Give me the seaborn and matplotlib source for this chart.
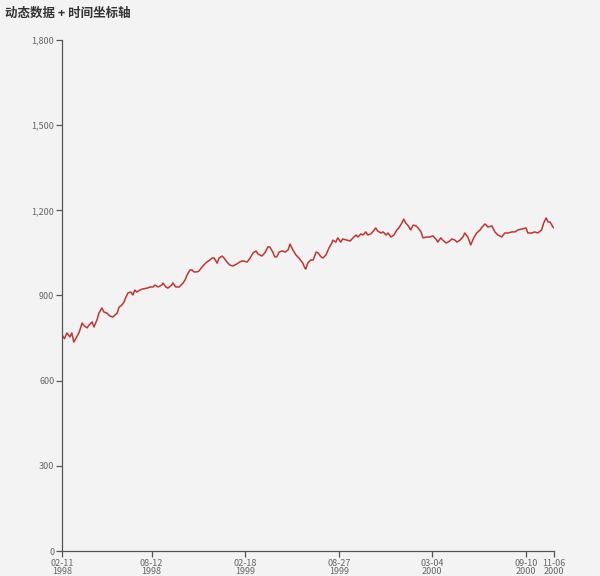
import matplotlib
matplotlib.use("Agg")
import numpy as np
import pandas as pd
import matplotlib.pyplot as plt
import seaborn as sns
from matplotlib.ticker import FuncFormatter

title = "动态数据 + 时间坐标轴"
start_date = "1998-02-11"

day_offsets = [
    0, 5, 10, 16, 20, 24, 30, 35, 41, 45, 51, 55, 61, 65, 71, 75,
    81, 85, 91, 97, 103, 112, 116, 122, 126, 130, 134, 140, 144, 148, 152, 158,
    164, 173, 179, 185, 189, 195, 203, 205, 211, 215, 223, 225, 231, 238, 246, 250,
    254, 260, 264, 268, 274, 278, 284, 288, 294, 298, 305, 309, 315, 319,
    325, 329, 335, 341, 347, 355, 361, 367, 376, 382, 388, 394, 398, 406, 412, 418,
    422, 428, 432, 436, 441, 447, 453, 459, 463, 469, 475, 481, 489, 493,
    495, 499, 505, 510, 516, 520, 526, 530, 536, 542, 548, 550, 556, 560, 566, 570,
    579, 585, 591, 597, 601, 607, 611, 617, 621, 627, 631, 637, 641, 648, 652,
    658, 662, 668, 674, 680, 684, 690, 694, 698, 702, 708, 713, 719, 723, 729, 733,
    741, 747, 753, 761, 763, 769, 773, 780, 784, 792, 798, 802, 808, 814, 818,
    824, 830, 836, 842, 849, 853, 859, 865, 873, 879, 885, 893, 899, 905, 914, 920,
    926, 934, 942, 946, 954, 960, 966, 974, 978, 983, 987, 991, 997, 999,
]

values = [
    761, 748, 768, 754, 768, 736, 754, 771, 803, 793, 786, 796, 807, 789, 814, 838,
    856, 842, 838, 828, 824, 838, 859, 867, 877, 895, 909, 912, 902, 919, 912, 919,
    923, 926, 930, 930, 937, 930, 937, 944, 930, 926, 937, 944, 930, 930, 944, 955,
    972, 990, 990, 983, 983, 986, 1000, 1007, 1018, 1022, 1032, 1032, 1014, 1032,
    1039, 1032, 1018, 1007, 1004, 1011, 1018, 1022, 1018, 1032, 1050, 1057, 1046, 1039, 1050, 1071,
    1071, 1053, 1036, 1036, 1053, 1057, 1053, 1060, 1081, 1060, 1043, 1032, 1014, 997,
    993, 1014, 1025, 1025, 1053, 1050, 1036, 1032, 1043, 1067, 1085, 1095, 1088, 1103, 1088, 1099,
    1095, 1092, 1103, 1113, 1106, 1117, 1113, 1124, 1113, 1117, 1124, 1138, 1127, 1120, 1124,
    1113, 1120, 1106, 1113, 1131, 1138, 1155, 1169, 1155, 1148, 1131, 1148, 1145, 1138, 1124, 1103,
    1106, 1106, 1110, 1095, 1088, 1103, 1095, 1085, 1088, 1099, 1095, 1088, 1095, 1106, 1120,
    1106, 1078, 1103, 1120, 1131, 1141, 1152, 1141, 1145, 1124, 1113, 1106, 1120, 1120, 1124, 1124,
    1131, 1134, 1138, 1120, 1120, 1124, 1120, 1131, 1155, 1173, 1159, 1159, 1141, 1138,
]

tick_dates = ["1998-02-11", "1998-08-12", "1999-02-18", "1999-08-27",
              "2000-03-04", "2000-09-10", "2000-11-06"]
y_ticks = [0, 300, 600, 900, 1200, 1500, 1800]

dates = pd.Timestamp(start_date) + pd.to_timedelta(day_offsets, unit="D")
df = pd.DataFrame({"date": dates, "value": values})

sns.set_theme(style="white")
plt.rcParams["font.family"] = ["Noto Sans CJK SC", "DejaVu Sans"]

bg = "#f3f3f3"
fig = plt.figure(figsize=(6, 5.76), dpi=100, facecolor=bg)
ax = fig.add_axes([0.1033, 0.0434, 0.82, 0.8872])
ax.set_facecolor(bg)

sns.lineplot(data=df, x="date", y="value", ax=ax, color="#c23531", linewidth=1.1)

tick_ts = [pd.Timestamp(t) for t in tick_dates]
ax.set_xlim(tick_ts[0], tick_ts[-1])
ax.set_ylim(y_ticks[0], y_ticks[-1])
ax.set_xticks(tick_ts)
ax.set_xticklabels([t.strftime("%m-%d") + "\n" + t.strftime("%Y") for t in tick_ts],
                   linespacing=0.9)
ax.set_yticks(y_ticks)
ax.yaxis.set_major_formatter(FuncFormatter(lambda v, p: f"{int(v):,}"))

ax.set_xlabel("")
ax.set_ylabel("")
ax.grid(False)
for s in ["top", "right"]:
    ax.spines[s].set_visible(False)
for s in ["left", "bottom"]:
    ax.spines[s].set_color("#555555")
    ax.spines[s].set_linewidth(0.9)

ax.tick_params(axis="both", which="major", labelsize=6.5, labelcolor="#666666",
               color="#555555", length=4, width=0.9, direction="out", pad=1.5,
               bottom=True, left=True)

fig.text(0.008, 0.988, title, ha="left", va="top", fontsize=9,
         fontweight="bold", color="#333333")

fig.savefig("out.png", dpi=100, facecolor=bg)
